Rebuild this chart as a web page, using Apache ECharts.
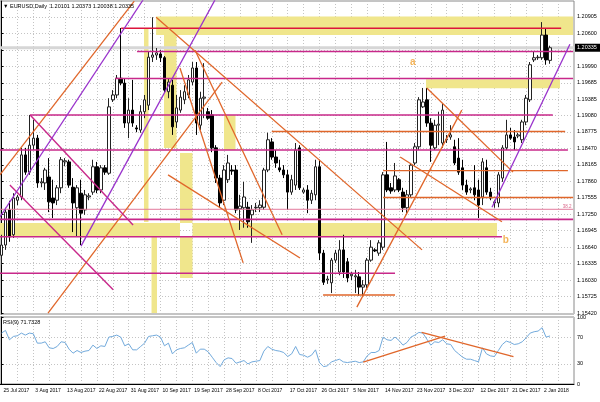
<!DOCTYPE html>
<html>
<head>
<meta charset="utf-8">
<script src="https://cdn.jsdelivr.net/npm/echarts@6/dist/echarts.min.js"></script>
<style>
  html, body { margin: 0; padding: 0; background: #fff; }
  #chart { width: 600px; height: 402px; }
</style>
</head>
<body>
<div id="chart"></div>
<script>
// daily EURUSD bars, bar 0 = 25 Jul 2017
const opens = [1.1649,1.1668,1.1733,1.1687,1.1751,1.1757,1.1835,1.1803,1.1853,1.1866,1.1783,1.1783,1.1794,1.1755,1.1751,1.1774,1.1822,1.1822,1.1775,1.1737,
  1.1764,1.1733,1.1757,1.1766,1.1813,1.1770,1.1811,1.1801,1.1937,1.1946,1.1977,1.1968,1.1894,1.1918,1.1885,1.1881,1.1915,1.1927,1.2016,1.2020,
  1.2022,1.2015,1.1952,1.1964,1.1896,1.1918,1.1937,1.1946,1.1970,1.1996,1.1890,1.1940,1.1915,1.1909,1.1848,1.1792,1.1751,1.1789,1.1807,1.1807,
  1.1735,1.1737,1.1738,1.1724,1.1737,1.1737,1.1738,1.1807,1.1859,1.1831,1.1811,1.1807,1.1798,1.1766,1.1779,1.1848,1.1766,1.1770,1.1751,1.1761,
  1.1813,1.1653,1.1603,1.1598,1.1640,1.1618,1.1659,1.1637,1.1611,1.1609,1.1609,1.1590,1.1594,1.1640,1.1659,1.1653,1.1664,1.1798,1.1774,1.1770,
  1.1789,1.1766,1.1737,1.1761,1.1820,1.1850,1.1924,1.1937,1.1894,1.1848,1.1890,1.1857,1.1863,1.1868,1.1850,1.1829,1.1811,1.1779,1.1770,1.1774,
  1.1770,1.1757,1.1811,1.1766,1.1746,1.1746,1.1792,1.1848,1.1872,1.1868,1.1870,1.1863,1.1896,1.1937,1.2011,1.2015,1.2015,1.2057,1.20101];
const highs = [1.1687,1.1737,1.1750,1.1764,1.1761,1.1848,1.1848,1.1909,1.1900,1.1872,1.1792,1.1811,1.1829,1.1789,1.1779,1.1831,1.1829,1.1826,1.1792,1.1779,
  1.1789,1.1770,1.1764,1.1826,1.1822,1.1816,1.1816,1.1940,1.1955,1.1983,1.2070,1.1977,1.1940,1.1974,1.1890,1.1927,1.1946,1.2026,1.2090,1.2033,
  1.2029,1.2018,1.1977,1.1974,1.1946,1.1955,1.1964,1.1983,1.2007,1.2007,1.1952,1.2005,1.1922,1.1918,1.1853,1.1798,1.1816,1.1835,1.1816,1.1816,
  1.1761,1.1785,1.1748,1.1742,1.1746,1.1751,1.1811,1.1876,1.1866,1.1844,1.1826,1.1816,1.1807,1.1798,1.1857,1.1853,1.1774,1.1779,1.1770,1.1826,
  1.1826,1.1659,1.1611,1.1644,1.1659,1.1677,1.1687,1.1644,1.1618,1.1622,1.1618,1.1603,1.1644,1.1677,1.1662,1.1677,1.1803,1.1859,1.1783,1.1820,
  1.1792,1.1774,1.1770,1.1820,1.1857,1.1942,1.1959,1.1959,1.1903,1.1900,1.1915,1.1931,1.1872,1.1890,1.1863,1.1866,1.1826,1.1789,1.1775,1.1816,
  1.1789,1.1829,1.1826,1.1774,1.1751,1.1803,1.1853,1.1900,1.1885,1.1881,1.1876,1.1900,1.1946,1.2007,1.2026,1.2020,1.2081,1.2070,1.20373];
const lows = [1.1631,1.1659,1.1674,1.1681,1.1742,1.1751,1.1798,1.1798,1.1844,1.1774,1.1775,1.1770,1.1729,1.1718,1.1742,1.1764,1.1814,1.1774,1.1692,1.1683,
  1.1668,1.1724,1.1751,1.1761,1.1764,1.1764,1.1798,1.1798,1.1933,1.1940,1.1964,1.1885,1.1866,1.1887,1.1877,1.1876,1.1903,1.1918,1.2007,1.2011,
  1.2007,1.1950,1.1940,1.1872,1.1885,1.1913,1.1929,1.1940,1.1964,1.1872,1.1881,1.1903,1.1900,1.1840,1.1783,1.1737,1.1742,1.1783,1.1798,1.1727,
  1.1696,1.1700,1.1700,1.1672,1.1729,1.1729,1.1733,1.1803,1.1826,1.1811,1.1803,1.1792,1.1733,1.1761,1.1770,1.1770,1.1763,1.1727,1.1744,1.1751,
  1.1640,1.1594,1.1596,1.1579,1.1635,1.1612,1.1607,1.1599,1.1603,1.1579,1.1574,1.1572,1.1588,1.1637,1.1655,1.1648,1.1659,1.1766,1.1763,1.1766,
  1.1766,1.1729,1.1724,1.1755,1.1816,1.1844,1.1922,1.1887,1.1822,1.1844,1.1853,1.1848,1.1857,1.1863,1.1816,1.1798,1.1770,1.1761,1.1764,1.1751,
  1.1718,1.1742,1.1761,1.1751,1.1737,1.1738,1.1785,1.1844,1.1863,1.1844,1.1866,1.1857,1.1890,1.1933,1.2007,1.2011,1.2011,1.2002,1.20038];
const closes = [1.1668,1.1729,1.1683,1.1755,1.1757,1.1835,1.1803,1.1853,1.1866,1.1783,1.1785,1.1807,1.1748,1.1746,1.1774,1.1826,1.1824,1.1779,1.1746,1.1774,
  1.1727,1.1761,1.1759,1.1813,1.1770,1.1811,1.1803,1.1924,1.1946,1.1977,1.1968,1.1894,1.1918,1.1894,1.1883,1.1915,1.1937,1.2016,1.2020,1.2024,
  1.2015,1.1955,1.1970,1.1887,1.1922,1.1942,1.1952,1.1974,1.1996,1.1894,1.1940,1.1942,1.1903,1.1848,1.1792,1.1746,1.1807,1.1820,1.1805,1.1733,
  1.1740,1.1757,1.1711,1.1733,1.1738,1.1742,1.1807,1.1863,1.1831,1.1820,1.1807,1.1798,1.1766,1.1789,1.1844,1.1774,1.1770,1.1751,1.1764,1.1813,
  1.1653,1.1599,1.1605,1.1640,1.1653,1.1659,1.1618,1.1607,1.1614,1.1611,1.1590,1.1594,1.1640,1.1664,1.1657,1.1672,1.1798,1.1770,1.1768,1.1796,
  1.1770,1.1737,1.1761,1.1816,1.1850,1.1937,1.1933,1.1894,1.1853,1.1890,1.1892,1.1918,1.1864,1.1872,1.1820,1.1803,1.1779,1.1766,1.1772,1.1761,
  1.1742,1.1822,1.1766,1.1755,1.1748,1.1798,1.1848,1.1872,1.1866,1.1859,1.1872,1.1896,1.1940,1.2002,1.2015,1.2016,1.2057,1.2011,1.20335];
const rsi = [76,80,66,71,72,76,73,76,75,61,61,63,54,53,56,63,62,52,46,50,
  47,49,50,58,53,57,56,70,71,73,70,57,60,51,51,56,61,71,72,73,
  70,57,61,45,51,53,54,58,62,46,52,52,48,40,32,26,36,39,38,31,
  33,35,30,33,34,35,49,56,52,50,49,47,41,45,56,44,43,40,43,51,
  32,26,27,33,35,37,33,32,33,34,32,33,42,47,47,50,70,66,65,70,
  65,58,62,70,73,77,76,67,58,63,62,66,60,59,50,45,40,37,37,35,
  33,54,45,42,41,50,59,64,62,59,60,63,69,76,78,79,84,70,71.73];

const dateTickBars = [0,8,16,24,32,40,48,56,64,72,80,88,96,104,112,120,128,136];
const dateTickLabels = ['25 Jul 2017','3 Aug 2017','13 Aug 2017','22 Aug 2017','31 Aug 2017','10 Sep 2017',
  '19 Sep 2017','28 Sep 2017','8 Oct 2017','17 Oct 2017','26 Oct 2017','5 Nov 2017','14 Nov 2017',
  '23 Nov 2017','3 Dec 2017','12 Dec 2017','21 Dec 2017','2 Jan 2018'];
const priceTicks = [1.15420,1.15725,1.16030,1.16335,1.16640,1.16945,1.17250,1.17555,1.17860,1.18165,
  1.18470,1.18775,1.19080,1.19385,1.19685,1.19990,1.20295,1.20600,1.20905];
const rsiTicks = [0, 30, 70, 100];

// drawn objects, in bar / price units: [price, fromBar, toBar]
const crimsonLevels = [[1.20696, 30.1, 140.8]];
const magentaLevels = [[1.20266, 34.1, 143.8], [1.19765, 28.6, 143.8], [1.19089, 7.2, 138.7], [1.18441, -0.4, 142.5],
  [1.17156, -0.4, 143.8], [1.16834, -0.4, 125.9], [1.16156, -0.4, 99.0]];
const orangeLevels = [[1.18783, 68.0, 141.8], [1.18057, 96.0, 142.5], [1.17560, 96.0, 143.8], [1.15754, 80.9, 99.0]];
const fibLevels = [[1.17342, -0.4, 143.8]];
// [fromBar, toBar, topPrice, bottomPrice]
const khakiZones = [[38.9, 143.8, 1.20914, 1.20571], [106.8, 140.5, 1.19751, 1.19584],
  [-0.4, 44.9, 1.17088, 1.16834], [48.05, 124.65, 1.17088, 1.16834],
  [35.85, 36.98, 1.20696, 1.17106], [37.74, 39.12, 1.16828, 1.15420], [40.88, 44.03, 1.20571, 1.18478],
  [44.91, 48.05, 1.18385, 1.17088], [44.91, 48.05, 1.16834, 1.16069], [55.97, 58.87, 1.19089, 1.18441]];
const orangeTrends = [
  [[-0.4, 1.1798], [33.4, 1.2120]],
  [[11.7, 1.1542], [55.5, 1.1970]],
  [[38.9, 1.2090], [105.8, 1.1659]],
  [[48.7, 1.2029], [70.6, 1.1687]],
  [[44.9, 1.1996], [60.8, 1.1635]],
  [[41.9, 1.1798], [75.1, 1.1644]],
  [[89.4, 1.1553], [115.8, 1.1918]],
  [[107.0, 1.1959], [128.7, 1.1803]],
  [[100.3, 1.1831], [125.9, 1.1711]]
];
const magentaTrends = [
  [[7.2, 1.1909], [33.1, 1.1705]],
  [[2.1, 1.1779], [28.1, 1.1585]]
];
const orchidTrends = [
  [[-0.4, 1.1720], [35.6, 1.2122]],
  [[20.0, 1.1666], [53.7, 1.2122]],
  [[123.4, 1.1738], [143.0, 1.2040]]
];
const rsiTrends = [
  [[91.0, 32.8], [111.6, 71.6]],
  [[105.7, 77.2], [128.8, 40.7]]
];
const letterMarks = [{ name: 'a', value: [103.5, 1.2007] }, { name: 'b', value: [126.9, 1.1677] }];
const fibMarks = [{ name: '38.2', value: [142.3, 1.1738] }];

const xMin = -0.38, xMax = 144.03;
const gridTicks = [];
for (let b = 0; b <= 144; b += 4) gridTicks.push(b);

const chart = echarts.init(document.getElementById('chart'));
const bars = opens.map((o, i) => [i, o, closes[i], lows[i], highs[i]]);
const lastClose = closes[closes.length - 1];

const dotted = { color: '#c4c4c4', width: 1, type: [1, 2] };
const font = 'Liberation Sans, Arial, sans-serif';

function seg(points, color, width, grid, z) {
  return {
    type: 'line', xAxisIndex: grid, yAxisIndex: grid, data: points,
    symbol: 'none', silent: true, animation: false, z: z || 5,
    lineStyle: { color: color, width: width }
  };
}

function textSeries(items, color, size, weight) {
  return {
    type: 'scatter', xAxisIndex: 0, yAxisIndex: 0, silent: true, symbolSize: 0, z: 6,
    data: items,
    label: { show: true, position: 'inside', formatter: '{b}', color: color, fontSize: size,
      fontWeight: weight || 'normal', fontFamily: font }
  };
}

const series = [];

series.push({
  type: 'custom', xAxisIndex: 0, yAxisIndex: 0, silent: true, z: 1,
  data: khakiZones,
  renderItem(params, api) {
    const a = api.coord([api.value(0), api.value(2)]);
    const b = api.coord([api.value(1), api.value(3)]);
    return {
      type: 'rect',
      shape: { x: a[0], y: a[1], width: b[0] - a[0], height: b[1] - a[1] },
      style: { fill: '#f0e68c' }
    };
  }
});

// bid line
series.push(seg([[xMin, lastClose], [xMax, lastClose]], '#d6d6d6', 3, 0, 2));

series.push({
  type: 'candlestick', xAxisIndex: 0, yAxisIndex: 0, data: bars, barWidth: 3, z: 3,
  animation: false,
  itemStyle: { color: '#ffffff', color0: '#000000', borderColor: '#222', borderColor0: '#000', borderWidth: 1 }
});

crimsonLevels.forEach(l => series.push(seg([[l[1], l[0]], [l[2], l[0]]], '#dc143c', 1.5, 0)));
magentaLevels.forEach(l => series.push(seg([[l[1], l[0]], [l[2], l[0]]], '#c8288a', 1.6, 0)));
orangeLevels.forEach(l => series.push(seg([[l[1], l[0]], [l[2], l[0]]], '#e0662a', 1.3, 0)));
fibLevels.forEach(l => series.push(seg([[l[1], l[0]], [l[2], l[0]]], '#e27a9c', 1, 0)));
orangeTrends.forEach(t => series.push(seg(t, '#e0662a', 1.3, 0)));
magentaTrends.forEach(t => series.push(seg(t, '#c8288a', 1.4, 0)));
orchidTrends.forEach(t => series.push(seg(t, '#9932cc', 1.3, 0)));

series.push(textSeries(letterMarks, '#f0a030', 10, 'bold'));
series.push(textSeries(fibMarks, '#d0406a', 4.5));

series.push({
  type: 'line', xAxisIndex: 1, yAxisIndex: 1, data: rsi.map((v, i) => [i, v]),
  symbol: 'none', silent: true, animation: false, z: 3,
  lineStyle: { color: '#72aadc', width: 1 }
});
rsiTrends.forEach(t => series.push(seg(t, '#e0662a', 1.3, 1)));

chart.setOption({
  animation: false,
  backgroundColor: '#ffffff',
  grid: [
    { left: 0, top: 1, width: 574, height: 313, show: true, borderColor: '#8a8a8a', borderWidth: 1 },
    { left: 0, top: 317, width: 574, height: 67, show: true, borderColor: '#8a8a8a', borderWidth: 1 }
  ],
  xAxis: [
    {
      gridIndex: 0, type: 'value', min: xMin, max: xMax,
      axisLine: { show: false }, axisLabel: { show: false },
      axisTick: { show: false, customValues: gridTicks },
      splitLine: { show: true, lineStyle: dotted }
    },
    {
      gridIndex: 1, type: 'value', min: xMin, max: xMax, position: 'bottom',
      axisLine: { show: true, lineStyle: { color: '#000' } },
      axisTick: { show: false, customValues: gridTicks },
      splitLine: { show: true, lineStyle: dotted },
      axisLabel: {
        customValues: dateTickBars, align: 'left', margin: 4, padding: [0, 0, 0, 2],
        fontSize: 5, color: '#000', fontFamily: font,
        formatter: v => dateTickLabels[dateTickBars.indexOf(v)]
      }
    }
  ],
  yAxis: [
    {
      gridIndex: 0, type: 'value', position: 'right', min: 1.15402, max: 1.21201,
      axisLine: { show: true, lineStyle: { color: '#000' } },
      axisTick: { show: true, length: 2, customValues: priceTicks, lineStyle: { color: '#000' } },
      splitLine: { show: true, lineStyle: dotted },
      axisLabel: {
        customValues: priceTicks.filter(v => Math.abs(v - lastClose) > 0.0006),
        margin: 3, fontSize: 5.5, color: '#000', fontFamily: font,
        formatter: v => v.toFixed(5)
      }
    },
    {
      gridIndex: 1, type: 'value', position: 'right', min: 0, max: 100,
      axisLine: { show: true, lineStyle: { color: '#000' } },
      axisTick: { show: true, length: 2, customValues: rsiTicks, lineStyle: { color: '#000' } },
      splitLine: { show: true, lineStyle: dotted },
      axisLabel: { customValues: rsiTicks, margin: 3, fontSize: 5.5, color: '#000', fontFamily: font }
    }
  ],
  series: series
});

// header texts and the current price box
const yPrice = chart.convertToPixel({ yAxisIndex: 0 }, lastClose);
chart.setOption({
  graphic: [
    { type: 'text', left: 3, top: 3, z: 10,
      style: { text: '\u25BC EURUSD,Daily  1.20101 1.20373 1.20038 1.20335', fontSize: 5.5, fill: '#000', fontFamily: font } },
    { type: 'text', left: 3, top: 319, z: 10,
      style: { text: 'RSI(9) 71.7328', fontSize: 5.5, fill: '#000', fontFamily: font } },
    { type: 'rect', shape: { x: 575, y: yPrice - 4, width: 25, height: 8 }, style: { fill: '#000' }, z: 10 },
    { type: 'text', x: 577, y: yPrice - 3, z: 11,
      style: { text: lastClose.toFixed(5), fontSize: 5.5, fill: '#fff', fontFamily: font } }
  ]
});
</script>
</body>
</html>
